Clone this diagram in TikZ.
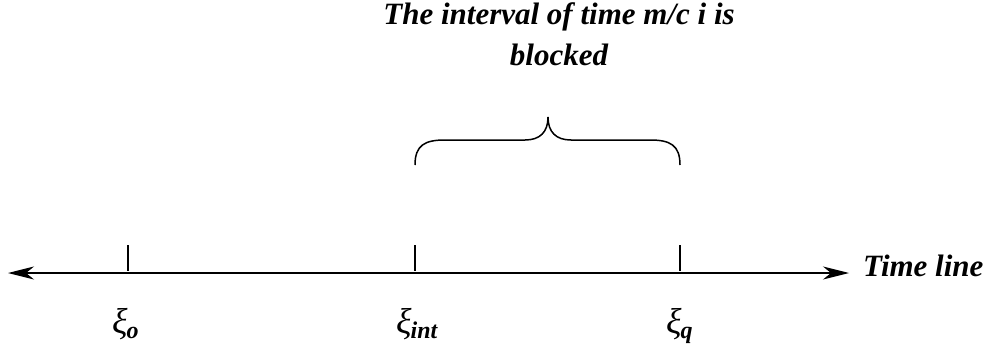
\documentclass[tikz,border=0pt]{standalone}
\usepackage{fontspec}
\setmainfont{Liberation Serif}
\usetikzlibrary{arrows.meta}
\tikzset{
  lbl/.style={font=\bfseries\itshape\fontsize{31}{40}\selectfont, inner sep=0pt},
  xilbl/.style={inner sep=0pt, anchor=base west},
  axis/.style={line width=1.5pt, {Stealth[length=26pt,width=13pt,inset=8pt]}-{Stealth[length=26pt,width=13pt,inset=8pt]}},
  tick/.style={line width=1.5pt},
  brace/.style={line width=1.5pt}
}
\newcommand{\xisub}[1]{{\itshape\fontsize{36}{38}\selectfont ξ}\kern-1pt\raisebox{-5pt}{\bfseries\itshape\fontsize{24}{26}\selectfont #1}}
\begin{document}
\begin{tikzpicture}[x=1pt,y=-1pt]
\useasboundingbox (0,0) rectangle (992,345);
\coordinate (L) at (8,273);
\coordinate (R) at (849,273);
\draw[axis] (L) -- (R);
\coordinate (t0a) at (128,245); \coordinate (t0b) at (128,271);
\coordinate (t1a) at (415,245); \coordinate (t1b) at (415,271);
\coordinate (t2a) at (680,245); \coordinate (t2b) at (680,271);
\draw[tick] (t0a) -- (t0b);
\draw[tick] (t1a) -- (t1b);
\draw[tick] (t2a) -- (t2b);
\node[lbl, anchor=base west] (tl) at (863,276) {Time line};
\node[xilbl] (x0) at (112,333) {\xisub{o}};
\node[xilbl] (x1) at (396,333) {\xisub{int}};
\node[xilbl] (x2) at (666,333) {\xisub{q}};
\node[lbl, align=center, anchor=base] (title) at (559,65) {The interval of time m/c i is\\blocked};
\coordinate (bl) at (415,165);
\coordinate (br) at (680,165);
\coordinate (bt) at (548,117);
\draw[brace] (bl) .. controls (415,145) and (425,140) .. (445,140) -- (525,140)
  .. controls (540,140) and (548,132) .. (bt)
  .. controls (548,132) and (556,140) .. (571,140) -- (650,140)
  .. controls (670,140) and (680,145) .. (br);
\end{tikzpicture}
\end{document}
